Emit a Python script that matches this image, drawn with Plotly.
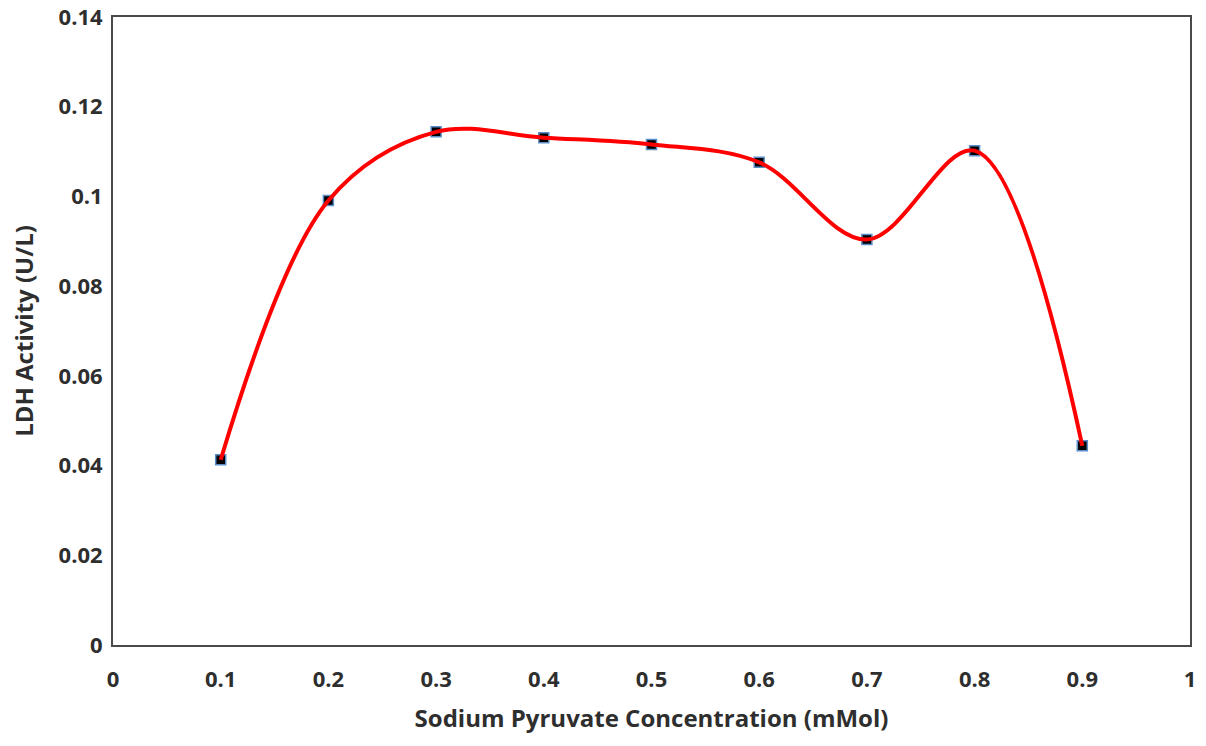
import plotly.graph_objects as go

concentration = [0.1, 0.2, 0.3, 0.4, 0.5, 0.6, 0.7, 0.8, 0.9]
ldh_activity = [0.0413, 0.0991, 0.1144, 0.1131, 0.1116, 0.1076, 0.0904, 0.1102, 0.0444]

x_ticks = [0, 0.1, 0.2, 0.3, 0.4, 0.5, 0.6, 0.7, 0.8, 0.9, 1]
x_tick_labels = ["0", "0.1", "0.2", "0.3", "0.4", "0.5", "0.6", "0.7", "0.8", "0.9", "1"]
y_ticks = [0, 0.02, 0.04, 0.06, 0.08, 0.1, 0.12, 0.14]
y_tick_labels = ["0", "0.02", "0.04", "0.06", "0.08", "0.1", "0.12", "0.14"]

fig = go.Figure()
fig.add_trace(go.Scatter(
    x=concentration, y=ldh_activity, mode="markers",
    marker=dict(symbol="square", size=10, color="black",
                line=dict(color="#5b8ec9", width=1.5)),
    showlegend=False, hoverinfo="skip"))
fig.add_trace(go.Scatter(
    x=concentration, y=ldh_activity, mode="lines",
    line=dict(color="#ff0000", width=4, shape="spline", smoothing=1.0),
    showlegend=False))

font_fam = "'Open Sans', sans-serif"
fig.update_layout(
    width=1206, height=746,
    margin=dict(l=113, r=16, t=17, b=101),
    paper_bgcolor="white", plot_bgcolor="white",
    font=dict(family=font_fam, color="#2e2e2e", size=20),
    xaxis=dict(range=[0, 1], tickvals=x_ticks, ticktext=x_tick_labels,
               showgrid=False, zeroline=False, showline=True, mirror=True,
               linecolor="#4a4a4a", linewidth=2, ticks="",
               automargin=False, ticklabeloverflow="allow", ticklabelstandoff=14,
               tickfont=dict(size=22, family=font_fam, weight=700),
               title=dict(text="Sodium Pyruvate Concentration (mMol)", standoff=18,
                          font=dict(size=24, family=font_fam, weight=700))),
    yaxis=dict(range=[0, 0.14], tickvals=y_ticks, ticktext=y_tick_labels,
               showgrid=False, zeroline=False, showline=True, mirror=True,
               linecolor="#4a4a4a", linewidth=2, ticks="",
               automargin=False, ticklabeloverflow="allow", ticklabelstandoff=4,
               tickfont=dict(size=22, family=font_fam, weight=700),
               title=dict(text="LDH Activity (U/L)", standoff=18,
                          font=dict(size=24, family=font_fam, weight=700))),
)
fig.write_html("out.html", config={"displayModeBar": False},
               post_script="document.body.style.margin='0';")
